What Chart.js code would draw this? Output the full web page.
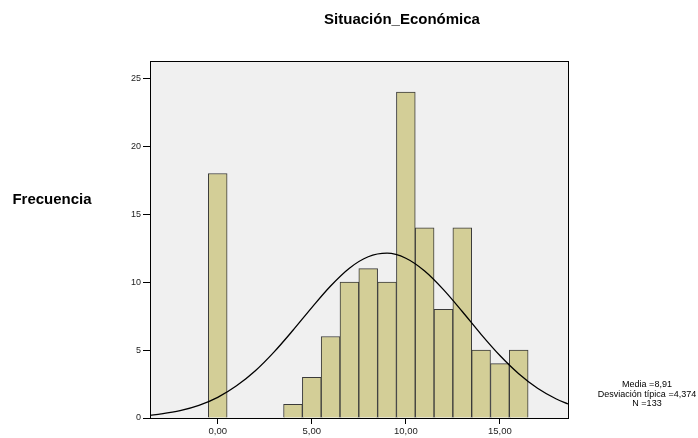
<!DOCTYPE html>
<html><head><meta charset="utf-8">
<script src="https://cdn.jsdelivr.net/npm/chart.js@4"></script>
<style>html,body{margin:0;padding:0;background:#fff}</style>
</head><body>
<canvas id="c" width="698" height="438"></canvas>
<script>
const title = "Situación_Económica";
const yTitle = "Frecuencia";
const statsLines = ["Media =8,91", "Desviación típica =4,374", "N =133"];
const binCenters = [0, 4, 5, 6, 7, 8, 9, 10, 11, 12, 13, 14, 15, 16];
const binCounts  = [18, 1, 3, 6, 10, 11, 10, 24, 14, 8, 14, 5, 4, 5];
const curveX = [-3.6, -3, -2, -1, 0, 1, 2, 3, 4, 5, 6, 7, 8, 9, 10, 11, 12, 13, 14, 15, 16, 17, 18, 18.62];
const curveY = [0.20, 0.30, 0.54, 0.93, 1.52, 2.37, 3.48, 4.87, 6.46, 8.13, 9.72, 11.03, 11.87, 12.13, 11.76, 10.82, 9.45, 7.84, 6.16, 4.60, 3.26, 2.19, 1.40, 1.04];
const xTicks = [0, 5, 10, 15];
const yTicks = [0, 5, 10, 15, 20, 25];

const fmt = v => v.toFixed(2).replace('.', ',');
const FONT = '"Liberation Sans", Arial, sans-serif';

const decor = {
  id: 'decor',
  beforeDraw(chart) {
    const {ctx, chartArea: a} = chart;
    ctx.save();
    ctx.fillStyle = '#f0f0f0';
    ctx.fillRect(a.left, a.top, a.right - a.left, a.bottom - a.top);
    ctx.restore();
  },
  afterDraw(chart) {
    const {ctx, chartArea: a} = chart;
    ctx.save();
    ctx.strokeStyle = '#000';
    ctx.lineWidth = 1;
    ctx.strokeRect(Math.round(a.left) + 0.5, Math.round(a.top) + 0.5, Math.round(a.right - a.left), Math.round(a.bottom - a.top));
    ctx.fillStyle = '#000';
    ctx.textAlign = 'center';
    ctx.textBaseline = 'middle';
    ctx.font = 'bold 15px ' + FONT;
    ctx.fillText(title, 402, 20);
    ctx.fillText(yTitle, 52, 200);
    ctx.font = '9px ' + FONT;
    statsLines.forEach((s, i) => ctx.fillText(s, 647, 385 + i * 9.5));
    ctx.restore();
  }
};

new Chart(document.getElementById('c'), {
  type: 'bar',
  data: {
    datasets: [
      {
        type: 'line',
        data: curveX.map((x, i) => ({x, y: curveY[i]})),
        borderColor: '#000',
        borderWidth: 1.3,
        pointRadius: 0,
        cubicInterpolationMode: 'monotone',
        fill: false,
        order: 0
      },
      {
        type: 'bar',
        data: binCenters.map((x, i) => ({x, y: binCounts[i]})),
        backgroundColor: '#d3ce97',
        borderColor: '#3a3a3a',
        borderWidth: 1,
        barPercentage: 1,
        categoryPercentage: 1,
        order: 1
      }
    ]
  },
  options: {
    responsive: false,
    animation: false,
    events: [],
    layout: {padding: {left: 120, right: 130, top: 61, bottom: 0}},
    plugins: {legend: {display: false}, tooltip: {enabled: false}, title: {display: false}},
    scales: {
      x: {
        type: 'linear',
        min: -3.6, max: 18.62,
        offset: false,
        afterFit: s => { s.height = 20; },
        afterBuildTicks: s => { s.ticks = xTicks.map(v => ({value: v})); },
        grid: {offset: false, drawOnChartArea: false, tickLength: 6, color: '#000', tickColor: '#000'},
        border: {display: true, color: '#000'},
        ticks: {color: '#222', padding: 2, font: {family: FONT, size: 9.5}, callback: v => fmt(v), maxRotation: 0}
      },
      y: {
        type: 'linear',
        min: 0, max: 26.28,
        afterFit: s => { s.width = 30; },
        afterBuildTicks: s => { s.ticks = yTicks.map(v => ({value: v})); },
        grid: {drawOnChartArea: false, tickLength: 7, color: '#000', tickColor: '#000'},
        border: {display: true, color: '#000'},
        ticks: {color: '#222', padding: 2, font: {family: FONT, size: 9}}
      }
    }
  },
  plugins: [decor]
});
</script>
</body></html>
